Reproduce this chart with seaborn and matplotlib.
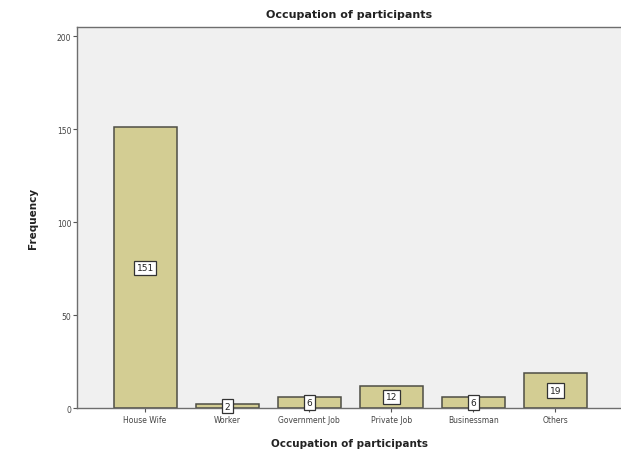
import matplotlib
matplotlib.use("Agg")
import matplotlib.pyplot as plt
import seaborn as sns
import pandas as pd

# Occupation counts
occupations = ["House Wife", "Worker", "Government Job", "Private Job", "Businessman", "Others"]
counts = [151, 2, 6, 12, 6, 19]

df = pd.DataFrame({"Occupation": occupations, "Frequency": counts})

sns.set_style("white")
plt.rcParams["font.family"] = ["DejaVu Sans"]

fig = plt.figure(figsize=(6.21, 4.52), dpi=100)
ax = fig.add_axes([0.124, 0.095, 0.876, 0.843])
ax.set_facecolor("#f0f0f0")

sns.barplot(data=df, x="Occupation", y="Frequency", ax=ax, color="#d3cd93",
            width=0.77, edgecolor="#4e4e45", linewidth=1.1, saturation=1)

# value labels in boxes at the middle of each bar
for i, v in enumerate(counts):
    ax.text(i, v / 2, str(v), ha="center", va="center", fontsize=6.5, color="#222222",
            bbox=dict(boxstyle="square,pad=0.3", fc="white", ec="#333333", lw=0.9),
            zorder=5)

ax.set_xlim(-0.83, 5.8)
ax.set_ylim(0, 205)
ax.set_yticks([0, 50, 100, 150, 200])

for side in ["left", "bottom", "top"]:
    ax.spines[side].set_visible(True)
    ax.spines[side].set_color("#6e6e6e")
    ax.spines[side].set_linewidth(1.0)
ax.spines["right"].set_visible(False)

ax.tick_params(axis="both", which="both", direction="out", length=3, width=0.8,
               colors="#555555", labelsize=5.5, labelcolor="#444444")
ax.tick_params(axis="y", left=True, pad=1)
ax.tick_params(axis="x", bottom=True, pad=2)

ax.set_xlabel("Occupation of participants", fontsize=7.5, fontweight="bold",
              color="#222222", labelpad=10)
ax.set_ylabel("Frequency", fontsize=7.5, fontweight="bold", color="#222222", labelpad=14)
ax.set_title("Occupation of participants", fontsize=8, fontweight="bold",
             color="#222222", pad=7)

fig.savefig("out.png", dpi=100)
